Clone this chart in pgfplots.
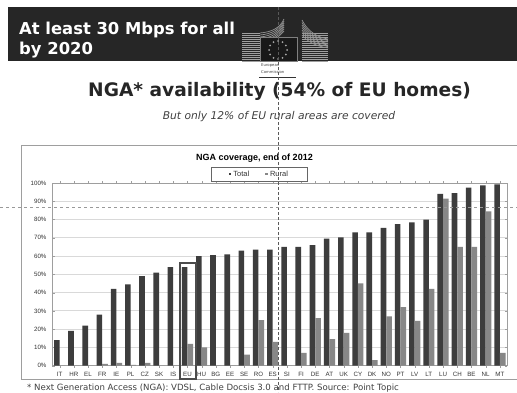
\documentclass[border=0pt]{standalone}
\usepackage{pgfplots}
\pgfplotsset{compat=1.18}
\usepackage{fontspec}
\setmainfont{DejaVu Sans}
\newfontfamily\arialfont{Liberation Sans}
\definecolor{band}{gray}{0.15}
\definecolor{barA}{gray}{0.24}
\definecolor{barB}{gray}{0.53}
\definecolor{gridc}{gray}{0.85}
\definecolor{framec}{gray}{0.62}
\definecolor{txt}{gray}{0.25}
\begin{document}
\begin{tikzpicture}
\path[use as bounding box] (0pt,0pt) rectangle (517pt,392pt);
\fill[white] (0pt,0pt) rectangle (517pt,392pt);
\begin{scope}[x=1pt,y=-1pt,yshift=392pt]
% header band
\fill[band] (8,7) rectangle (517,61);
\node[anchor=west,text=white,font=\fontsize{16.4}{16}\selectfont\bfseries,inner sep=0pt] at (19,30) {At least 30 Mbps for all};
\node[anchor=west,text=white,font=\fontsize{16.4}{16}\selectfont\bfseries,inner sep=0pt] at (19,50) {by 2020};
% building wings of the emblem
\foreach \y in {33,35,...,61}{
  \draw[gray!75!white,line width=0.9pt] (242,\y) -- (260,\y);
  \draw[gray!75!white,line width=0.9pt] (302,\y) -- (328,\y);
}
\foreach \i in {0,...,6}{
  \draw[gray!85!white,line width=0.7pt] (260,33+2*\i) .. controls (272,32+2*\i) and (280,28+1.2*\i) .. (284,19+2*\i);
  \draw[gray!85!white,line width=0.7pt] (302,20+2.5*\i) .. controls (306,28+2*\i) and (314,37+1.5*\i) .. (328,39+1.5*\i);
}
\fill[black!90] (260,37) rectangle (297,61);
\draw[gray,line width=0.5pt] (260,37) rectangle (297,61);
\foreach \a in {0,30,...,330}
  \fill[gray!70!white] ({278+9*cos(\a)},{50+9*sin(\a)}) circle (1);
\node[font=\fontsize{3.8}{7}\selectfont,text=txt,inner sep=0pt,align=left,anchor=west] at (261,68.5) {European\\Commission};
\draw[black!80,line width=1pt] (259,77) -- (296,77);
% headings
\node[text=black!85,font=\fontsize{18.6}{18}\selectfont\bfseries,inner sep=0pt] at (279.5,91) {NGA* availability (54\% of EU homes)};
\node[text=txt,font=\fontsize{10.7}{11}\selectfont\itshape,inner sep=0pt] at (279,117) {But only 12\% of EU rural areas are covered};
% chart frame
\draw[framec,line width=0.9pt] (21,145) rectangle (530,379);
\node[text=black,font=\arialfont\fontsize{9}{9}\selectfont\bfseries,inner sep=0pt] at (254.5,158) {NGA coverage, end of 2012};
\end{scope}
\begin{axis}[
  at={(52.5pt,26.3pt)},anchor=south west,
  scale only axis,width=454.5pt,height=182.7pt,
  ybar=0pt,bar width=5.6pt,
  xmin=-0.5,xmax=31.5,ymin=0,ymax=100,
  ytick={0,10,...,100},
  yticklabel={\pgfmathprintnumber{\tick}\%},
  xtick={0,...,31},
  xticklabels={IT,HR,EL,FR,IE,PL,CZ,SK,IS,EU,HU,BG,EE,SE,RO,ES,SI,FI,DE,AT,UK,CY,DK,NO,PT,LV,LT,LU,CH,BE,NL,MT},
  /pgf/number format/assume math mode=true,
  tick label style={font=\arialfont\fontsize{6.2}{6}\selectfont,text=black!80},
  xticklabel style={yshift=-1pt},
  yticklabel style={xshift=-2.5pt},
  major tick length=2pt,
  tick style={framec},
  ymajorgrids,grid style={gridc,line width=0.8pt},
  axis line style={framec,line width=0.8pt},
  legend style={at={(0.455,1.049)},anchor=center,legend columns=2,draw=black!60,line width=0.5pt,
    font=\arialfont\fontsize{7.5}{7.5}\selectfont,text=black!80,inner xsep=17pt,inner ysep=1.5pt,
    /tikz/every even column/.append style={column sep=14pt}},
  legend image code/.code={\fill[#1] (-1.4pt,-1.4pt) rectangle (1.4pt,1.4pt);},
]
\addplot[fill=barA,draw=none] coordinates {
(0,14)(1,19)(2,22)(3,28)(4,42)(5,44.5)(6,49)(7,51)(8,54)(9,54)(10,60)(11,60.5)(12,61)(13,63)(14,63.5)(15,63.5)
(16,65)(17,65)(18,66)(19,69.5)(20,70.3)(21,73)(22,73)(23,75.5)(24,77.5)(25,78.5)(26,80)(27,94)(28,94.5)(29,97.5)(30,98.7)(31,99.3)};
\addplot[fill=barB,draw=none] coordinates {
(0,0)(1,0)(2,0)(3,1)(4,1.5)(5,0.5)(6,1.5)(7,0)(8,0)(9,12)(10,10)(11,0)(12,0)(13,6)(14,25)(15,13)
(16,0)(17,7)(18,26)(19,14.5)(20,18)(21,45)(22,3)(23,27)(24,32)(25,24.5)(26,42)(27,91.5)(28,65)(29,65)(30,84.5)(31,7)};
\legend{Total,Rural}
\end{axis}
\begin{scope}[x=1pt,y=-1pt,yshift=392pt]
% outline around the EU column
\draw[black!70,line width=1.2pt] (180,263) rectangle (196,379);
% crosshair
\draw[black!65,densely dashed,line width=0.6pt] (278,7) -- (278,392);
\draw[black!40,dashed,line width=0.7pt] (0,207) -- (517,207);
% footnote
\node[anchor=west,text=txt,font=\fontsize{8.6}{9}\selectfont,inner sep=0pt] at (27,388) {* Next Generation Access (NGA): VDSL, Cable Docsis 3.0 and FTTP. Source: Point Topic};
\end{scope}
\end{tikzpicture}
\end{document}
